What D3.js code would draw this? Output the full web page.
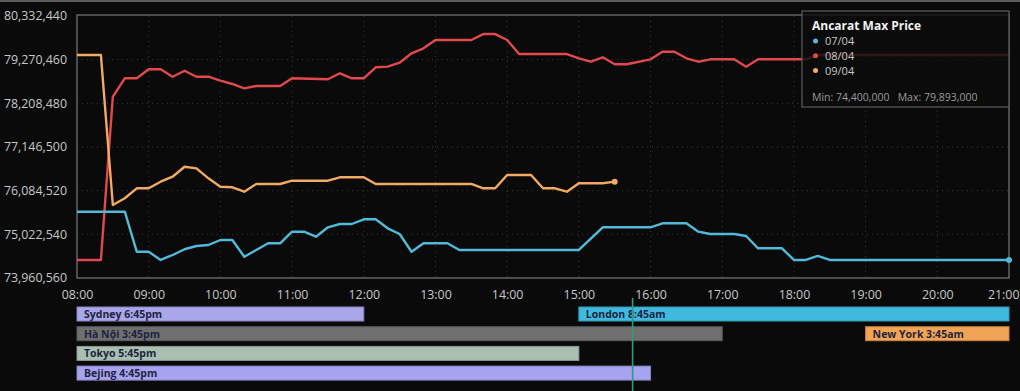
<!DOCTYPE html>
<html><head><meta charset="utf-8">
<script src="https://cdn.jsdelivr.net/npm/d3@7"></script>
<style>
html,body{margin:0;padding:0;background:#0a0a0a;}
svg{display:block;font-family:"Open Sans",sans-serif;}
</style></head>
<body><svg id="c" width="1020" height="391"></svg>
<script>
// ---- data ----
const yTicks = [73960560, 75022540, 76084520, 77146500, 78208480, 79270460, 80332440];
const xTicks = ["08:00","09:00","10:00","11:00","12:00","13:00","14:00","15:00","16:00","17:00","18:00","19:00","20:00","21:00"];
const seriesNames = ["07/04","08/04","09/04"];
const seriesColors = ["#52b9d9","#e04a4c","#f2aa62"];

const times0704 = ["08:00","08:40","08:50","09:00","09:10","09:20","09:30","09:40","09:50","10:00","10:10","10:20","10:30","10:40","10:50","11:00","11:10","11:20","11:30","11:40","11:50","12:00","12:10","12:20","12:30","12:40","12:50","13:00","13:10","13:20","15:00","15:20","16:00","16:10","16:30","16:40","16:50","17:10","17:20","17:30","17:50","18:00","18:10","18:20","18:30","21:00"];
const values0704 = [75573000,75573000,74600000,74600000,74400000,74520000,74659000,74739000,74763000,74885000,74885000,74479000,74642000,74804000,74804000,75087000,75087000,74965000,75194000,75274000,75274000,75388000,75388000,75169000,75031000,74600000,74804000,74804000,74804000,74642000,74642000,75194000,75194000,75291000,75291000,75087000,75031000,75031000,74982000,74683000,74683000,74400000,74400000,74496000,74400000,74400000];

const times0804 = ["08:00","08:20","08:30","08:40","08:50","09:00","09:10","09:20","09:30","09:40","09:50","10:00","10:10","10:20","10:30","10:50","11:00","11:30","11:40","11:50","12:00","12:10","12:20","12:30","12:40","12:50","13:00","13:30","13:40","13:50","14:00","14:10","14:50","15:00","15:10","15:20","15:30","15:40","16:00","16:10","16:20","16:30","16:40","16:50","17:10","17:20","17:30","18:10","18:20","21:00"];
const values0804 = [74400000,74400000,78370000,78817000,78817000,79036000,79036000,78856000,79002000,78856000,78856000,78759000,78679000,78574000,78630000,78630000,78817000,78793000,78939000,78817000,78817000,79085000,79100000,79197000,79425000,79547000,79749000,79749000,79893000,79893000,79749000,79408000,79408000,79304000,79221000,79328000,79158000,79158000,79279000,79464000,79464000,79304000,79221000,79279000,79279000,79099000,79279000,79279000,79384000,79384000];

const times0904 = ["08:00","08:20","08:30","08:40","08:50","09:00","09:10","09:20","09:30","09:40","09:50","10:00","10:10","10:20","10:30","10:50","11:00","11:30","11:40","12:00","12:10","13:30","13:40","13:50","14:00","14:20","14:30","14:40","14:50","15:00","15:20","15:30"];
const values0904 = [79384000,79384000,75736000,75899000,76142000,76142000,76303000,76424000,76667000,76628000,76385000,76181000,76166000,76059000,76247000,76247000,76327000,76327000,76410000,76410000,76247000,76247000,76142000,76142000,76466000,76466000,76142000,76142000,76059000,76264000,76264000,76303000];

const legendTitle = "Ancarat Max Price";
const minLabel = "Min: 74,400,000";
const maxLabel = "Max: 79,893,000";

const sessionNames = ["Sydney 6:45pm","Hà Nội 3:45pm","Tokyo 5:45pm","Bejing 4:45pm","London 8:45am","New York 3:45am"];
const sessionStart = ["08:00","08:00","08:00","08:00","15:00","19:00"];
const sessionEnd   = ["12:00","17:00","15:00","16:00","21:00","21:00"];
const sessionRow   = [0,1,2,3,0,1];
const sessionColors = ["#a9a6ea","#6f6f6f","#a8bfb2","#a7a3ef","#3fb9de","#f1a453"];
const cursorTime = "15:45";

// ---- chart ----
const parse = d3.timeParse("%H:%M");
const svg = d3.select("#c");
const L = 77, R = 1009, T = 16, B = 278;
const x = d3.scaleTime().domain([parse(xTicks[0]), parse(xTicks[xTicks.length-1])]).range([L, R]);
const y = d3.scaleLinear().domain([yTicks[0], yTicks[yTicks.length-1]]).range([B, T]);

svg.append("rect").attr("x",0).attr("y",0).attr("width",1020).attr("height",391).attr("fill","#0a0a0a");
svg.append("rect").attr("x",0).attr("y",0).attr("width",1020).attr("height",2).attr("fill","#5a5a5a");

// grid
const grid = svg.append("g").attr("stroke","#3a3a3a").attr("stroke-dasharray","1,4").attr("stroke-width",1);
grid.selectAll("line.h").data(yTicks.slice(1,-1)).join("line")
  .attr("x1",L).attr("x2",R).attr("y1",d=>y(d)).attr("y2",d=>y(d));
grid.selectAll("line.v").data(xTicks.slice(1,-1)).join("line")
  .attr("x1",d=>x(parse(d))).attr("x2",d=>x(parse(d))).attr("y1",T).attr("y2",B);

// axes
const yAxis = svg.append("g").attr("transform",`translate(${L},0)`)
  .call(d3.axisLeft(y).tickValues(yTicks).tickFormat(d3.format(",")).tickSize(0).tickPadding(10));
const xAxis = svg.append("g").attr("transform",`translate(0,${B})`)
  .call(d3.axisBottom(x).tickValues(xTicks.map(parse)).tickFormat(d3.timeFormat("%H:%M")).tickSize(0).tickPadding(12));
[yAxis,xAxis].forEach(a=>{
  a.select(".domain").remove();
  a.selectAll("text").attr("fill","#c8c8c8").style("font-size","12.4px").style("font-family","'Open Sans',sans-serif");
});
xAxis.selectAll(".tick:last-of-type text").attr("text-anchor","end").attr("dx","10");

// frame
svg.append("rect").attr("x",L).attr("y",T-1).attr("width",R-L).attr("height",B-T+1)
  .attr("fill","none").attr("stroke","#7a7a7a").attr("stroke-width",1.2);

// lines
const seriesTimes = [times0704, times0804, times0904];
const seriesValues = [values0704, values0804, values0904];
const line = d3.line().x(d=>x(d.t)).y(d=>y(d.v));
const drawOrder = [1,2,0];
drawOrder.forEach(i=>{
  const pts = seriesTimes[i].map((t,k)=>({t:parse(t), v:seriesValues[i][k]}));
  svg.append("path").datum(pts).attr("d",line).attr("fill","none")
    .attr("stroke",seriesColors[i]).attr("stroke-width",2.4).attr("stroke-linejoin","round");
  if(i!==1){
    const last = pts[pts.length-1];
    svg.append("circle").attr("cx",x(last.t)).attr("cy",y(last.v)).attr("r",3).attr("fill",seriesColors[i]);
  }
});

// legend
const lg = svg.append("g");
lg.append("rect").attr("x",802).attr("y",11).attr("width",207).attr("height",96)
  .attr("fill","rgba(12,12,12,0.82)").attr("stroke","#5c5c5c").attr("stroke-width",1.2);
lg.append("text").attr("x",812).attr("y",30).text(legendTitle)
  .attr("fill","#f2f2f2").style("font-size","12px").style("font-weight","bold");
seriesNames.forEach((n,i)=>{
  lg.append("circle").attr("cx",815.5).attr("cy",41+i*14.8).attr("r",2.5).attr("fill",seriesColors[i]);
  lg.append("text").attr("x",825).attr("y",45+i*14.8).text(n).attr("fill","#c8c8c8").style("font-size","11px");
});
lg.append("text").attr("x",812).attr("y",101).attr("fill","#9a9a9a").style("font-size","10.5px")
  .text(minLabel + "\u00a0\u00a0\u00a0" + maxLabel);

// sessions
const rowY = r => 307 + r*19.7;
const sg = svg.append("g");
sessionNames.forEach((n,i)=>{
  const x0 = x(parse(sessionStart[i])), x1 = x(parse(sessionEnd[i]));
  const col = d3.color(sessionColors[i]);
  sg.append("rect").attr("x",x0).attr("y",rowY(sessionRow[i])).attr("width",x1-x0).attr("height",14)
    .attr("fill",sessionColors[i]).attr("stroke",col.darker(0.6)).attr("stroke-width",1);
  sg.append("text").attr("x",x0+7).attr("y",rowY(sessionRow[i])+11).text(n)
    .attr("fill","#1d2340").style("font-size","10.5px").style("font-weight","bold");
});
// cursor
const cx = x(parse(cursorTime));
svg.append("line").attr("x1",cx).attr("x2",cx).attr("y1",298).attr("y2",391)
  .attr("stroke","#2b9c80").attr("stroke-width",1.6);
</script></body></html>
